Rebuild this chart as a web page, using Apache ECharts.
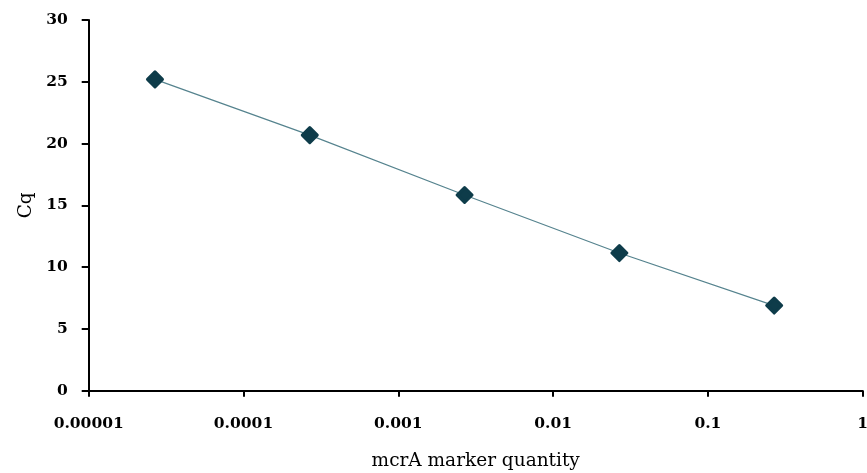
<!DOCTYPE html>
<html>
<head>
<meta charset="utf-8">
<script src="https://cdn.jsdelivr.net/npm/echarts@6/dist/echarts.min.js"></script>
<style>
html,body{margin:0;padding:0;background:#fff;}
#c{width:867px;height:473px;}
</style>
</head>
<body>
<div id="c"></div>
<script>
const quantities = [0.0000268, 0.000268, 0.00268, 0.0268, 0.268];
const cqValues = [25.19, 20.68, 15.84, 11.14, 6.89];
const xTickLabels = ['0.00001', '0.0001', '0.001', '0.01', '0.1', '1'];
const xAxisTitle = 'mcrA marker quantity';
const yAxisTitle = 'Cq';

const points = quantities.map((q, i) => [q, cqValues[i]]);
const chart = echarts.init(document.getElementById('c'), null, {renderer: 'canvas'});
const serif = '"DejaVu Serif", "Liberation Serif", serif';
chart.setOption({
  animation: false,
  backgroundColor: '#ffffff',
  grid: {left: 88.7, right: 4.3, top: 20, bottom: 82.3, containLabel: false, outerBoundsMode: 'none'},
  xAxis: {
    type: 'log', logBase: 10, min: 0.00001, max: 1,
    name: xAxisTitle, nameLocation: 'middle', nameGap: 61,
    nameTextStyle: {fontFamily: serif, fontSize: 18.5, color: '#000'},
    axisLine: {show: true, lineStyle: {color: '#000', width: 2}},
    axisTick: {show: true, inside: false, length: 6, lineStyle: {color: '#000', width: 2}},
    minorTick: {show: false},
    splitLine: {show: false},
    axisLabel: {
      fontFamily: serif, fontWeight: 'bold', fontSize: 15.5, color: '#000', margin: 25,
      formatter: function (v) {
        const idx = Math.round(Math.log10(v)) + 5;
        return xTickLabels[idx] !== undefined ? xTickLabels[idx] : '';
      }
    }
  },
  yAxis: {
    type: 'value', min: 0, max: 30, interval: 5,
    name: yAxisTitle, nameLocation: 'middle', nameGap: 51,
    nameTextStyle: {fontFamily: serif, fontSize: 18.5, color: '#000'},
    axisLine: {show: true, lineStyle: {color: '#000', width: 2}},
    axisTick: {show: true, inside: false, length: 7, lineStyle: {color: '#000', width: 2}},
    splitLine: {show: false},
    axisLabel: {fontFamily: serif, fontWeight: 'bold', fontSize: 15.5, color: '#000', margin: 21}
  },
  series: [{
    type: 'line',
    data: points,
    symbol: 'diamond',
    symbolSize: 15,
    showSymbol: true,
    lineStyle: {color: '#55838e', width: 1.2},
    itemStyle: {color: '#0e3c4a', borderColor: '#0e3c4a', borderWidth: 3, borderJoin: 'round'},
    z: 3
  }]
});
</script>
</body>
</html>
